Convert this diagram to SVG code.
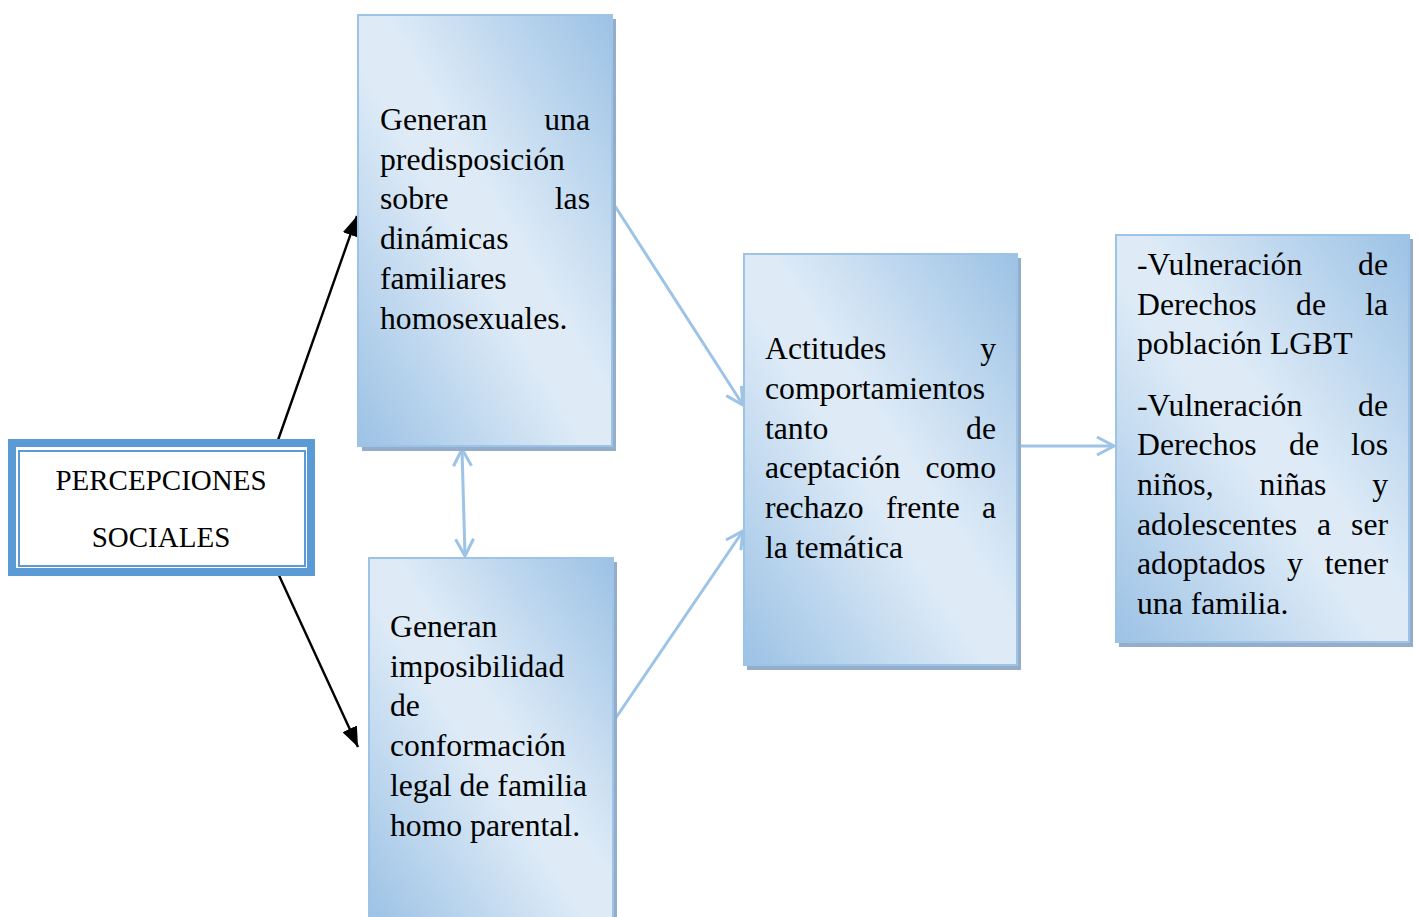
<svg xmlns="http://www.w3.org/2000/svg" width="1419" height="917" viewBox="0 0 1419 917">
<style>
text{font-family:"Liberation Serif","Times New Roman",serif;font-size:31.7px;fill:#000}
.t{font-size:29px}
.box{fill:url(#g);stroke:#9dc3e6;stroke-width:2}
.sh{fill:#93adcb}
.blk{stroke:#000;stroke-width:2.4;fill:none}
.blu{stroke:#9dc3e6;stroke-width:3;fill:none}
.e{text-anchor:end}
.m{text-anchor:middle}
</style>
<defs>
<linearGradient id="g" x1="0" y1="1" x2="1" y2="0">
<stop offset="0" stop-color="#9cc2e5"/>
<stop offset="0.45" stop-color="#deebf7"/>
<stop offset="0.55" stop-color="#deebf7"/>
<stop offset="1" stop-color="#9cc2e5"/>
</linearGradient>
<marker id="ab" markerUnits="userSpaceOnUse" viewBox="0 0 20 16" refX="20" refY="8" markerWidth="20" markerHeight="16" orient="auto">
<path d="M0,0 L20,8 L0,16 z" fill="#000"/>
</marker>
<marker id="ao" markerUnits="userSpaceOnUse" viewBox="0 0 20 20" refX="19" refY="10" markerWidth="20" markerHeight="20" orient="auto-start-reverse" overflow="visible">
<path d="M2,1 L19,10 L2,19" fill="none" stroke="#9dc3e6" stroke-width="3"/>
</marker>
</defs>
<rect width="1419" height="917" fill="#fff"/>

<g id="connectors">
<line class="blk" x1="277" y1="443" x2="357" y2="216" marker-end="url(#ab)"/>
<line class="blk" x1="277" y1="571" x2="358" y2="747" marker-end="url(#ab)"/>
<line class="blu" x1="462" y1="449" x2="465" y2="556" marker-start="url(#ao)" marker-end="url(#ao)"/>
<line class="blu" x1="613" y1="203" x2="743" y2="405" marker-end="url(#ao)"/>
<line class="blu" x1="613" y1="722" x2="743" y2="531" marker-end="url(#ao)"/>
<line class="blu" x1="1020" y1="446" x2="1114" y2="446" marker-end="url(#ao)"/>
</g>

<g id="percepciones">
<rect x="12" y="443" width="299" height="129" fill="#fff" stroke="#5b9bd5" stroke-width="8"/>
<rect x="19" y="451" width="286" height="115" fill="none" stroke="#5b9bd5" stroke-width="2"/>
<text class="t m" x="161" y="490">PERCEPCIONES</text>
<text class="t m" x="161" y="547">SOCIALES</text>
</g>

<g id="predisposicion">
<rect class="sh" x="362" y="19" width="254" height="432"/>
<rect class="box" x="358" y="15" width="254" height="431"/>
<text x="380" y="130">Generan</text><text class="e" x="590" y="130">una</text>
<text x="380" y="170">predisposición</text>
<text x="380" y="209">sobre</text><text class="e" x="590" y="209">las</text>
<text x="380" y="249">dinámicas</text>
<text x="380" y="289">familiares</text>
<text x="380" y="329">homosexuales.</text>
</g>

<g id="imposibilidad">
<rect class="sh" x="373" y="562" width="244" height="360"/>
<rect class="box" x="369" y="558" width="244" height="362"/>
<text x="390" y="637">Generan</text>
<text x="390" y="677">imposibilidad</text>
<text x="390" y="716">de</text>
<text x="390" y="756">conformación</text>
<text x="390" y="796">legal de familia</text>
<text x="390" y="836">homo parental.</text>
</g>

<g id="actitudes">
<rect class="sh" x="747" y="258" width="274" height="412"/>
<rect class="box" x="744" y="254" width="273" height="411"/>
<text x="765" y="359">Actitudes</text><text class="e" x="996" y="359">y</text>
<text x="765" y="399">comportamientos</text>
<text x="765" y="439">tanto</text><text class="e" x="996" y="439">de</text>
<text x="765" y="478">aceptación</text><text class="e" x="996" y="478">como</text>
<text x="765" y="518">rechazo</text><text class="m" x="923" y="518">frente</text><text class="e" x="996" y="518">a</text>
<text x="765" y="558">la temática</text>
</g>

<g id="vulneracion">
<rect class="sh" x="1119" y="239" width="294" height="408"/>
<rect class="box" x="1116" y="235" width="293" height="407"/>
<text x="1137" y="275">-Vulneración</text><text class="e" x="1388" y="275">de</text>
<text x="1137" y="315">Derechos</text><text class="m" x="1311" y="315">de</text><text class="e" x="1388" y="315">la</text>
<text x="1137" y="354">población LGBT</text>
<text x="1137" y="416">-Vulneración</text><text class="e" x="1388" y="416">de</text>
<text x="1137" y="455">Derechos</text><text class="m" x="1304" y="455">de</text><text class="e" x="1388" y="455">los</text>
<text x="1137" y="495">niños,</text><text class="m" x="1293" y="495">niñas</text><text class="e" x="1388" y="495">y</text>
<text x="1137" y="535">adolescentes</text><text class="m" x="1324" y="535">a</text><text class="e" x="1388" y="535">ser</text>
<text x="1137" y="574">adoptados</text><text class="m" x="1295" y="574">y</text><text class="e" x="1388" y="574">tener</text>
<text x="1137" y="614">una familia.</text>
</g>
</svg>
